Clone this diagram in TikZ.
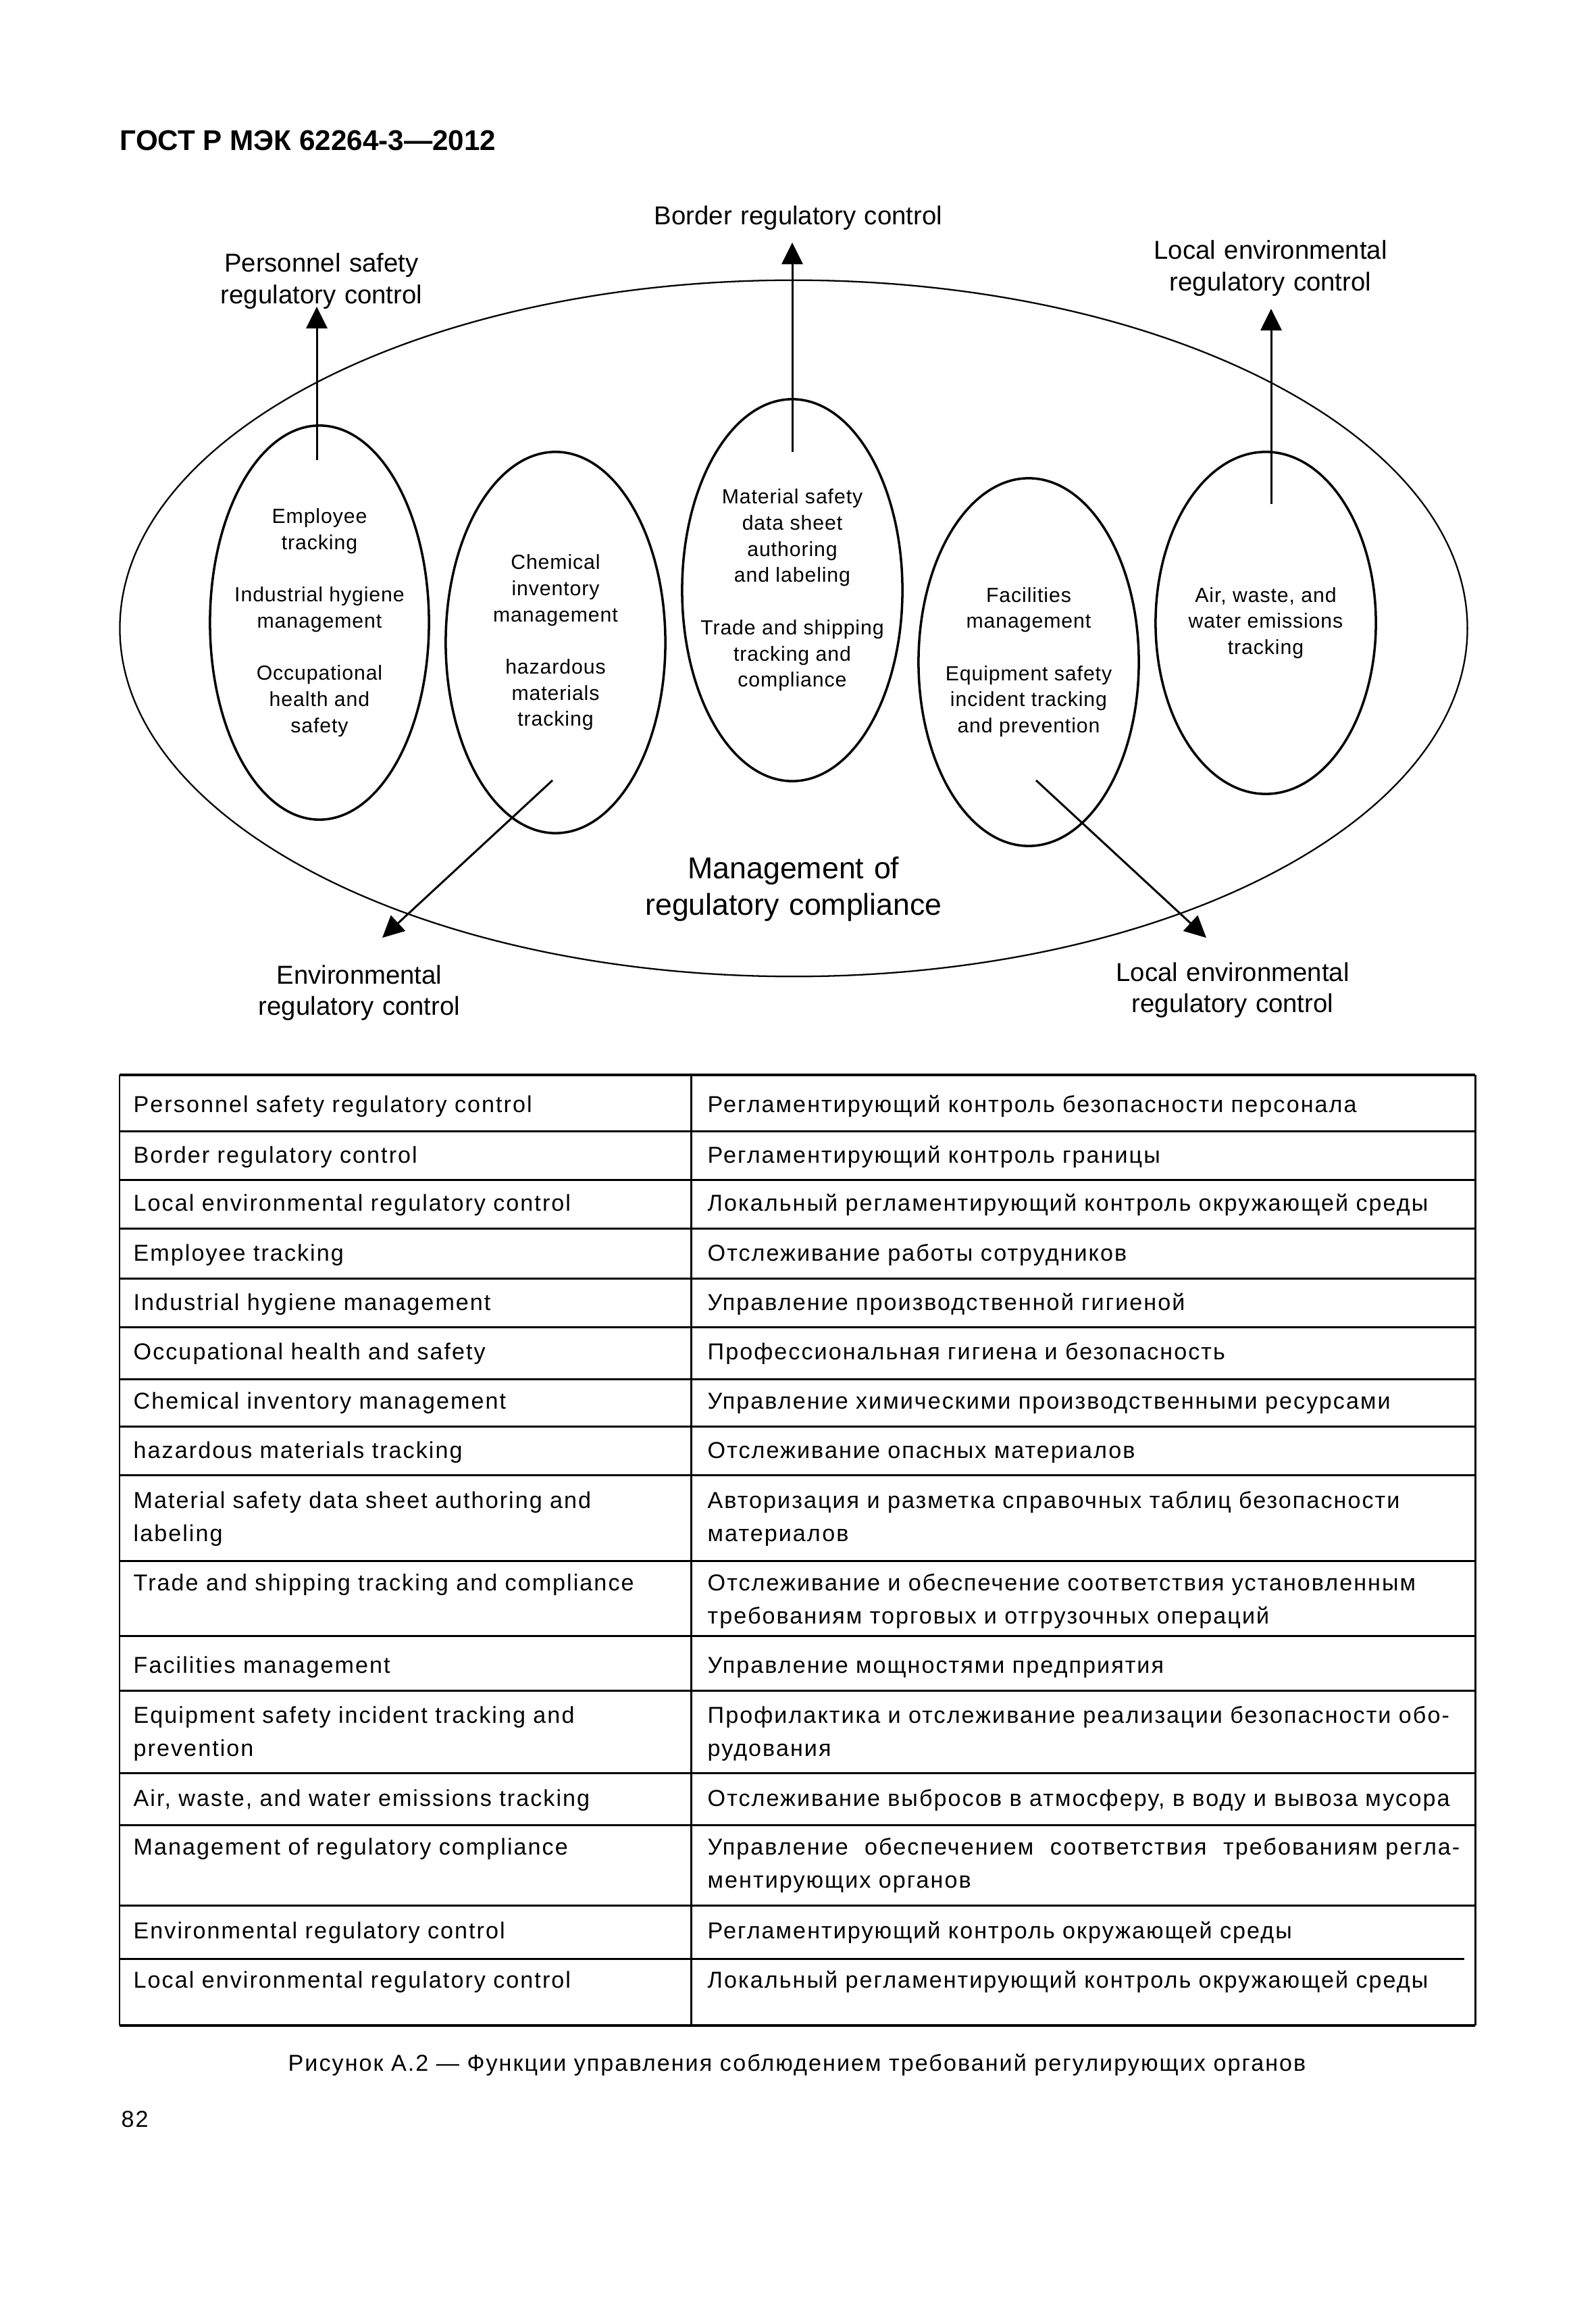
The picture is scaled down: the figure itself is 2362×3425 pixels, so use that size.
\documentclass[tikz,border=0pt]{standalone}
\usepackage{fontspec}
\setmainfont{Liberation Sans}
\newfontfamily\tabfont[LetterSpace=6]{Liberation Sans}
\newfontfamily\ellfont[LetterSpace=3]{Liberation Sans}
\usetikzlibrary{shapes.geometric}
\usetikzlibrary{arrows.meta,positioning}

\tikzset{
  smallell/.style={draw, ellipse, line width=1pt, inner sep=0pt},
  elltext/.style={align=center, inner sep=0pt, font=\ellfont\fontsize{8.6}{11}\selectfont},
  lbl/.style={text width=6cm, align=center, inner sep=0pt, anchor=base, font=\fontsize{10.9}{13.1}\selectfont},
  ctrlarrow/.style={-{Triangle[length=0.32cm,width=0.31cm]}, line width=0.85pt},
  lcell/.style={anchor=base west, inner sep=0pt, text width=8.1cm, align=left, font=\tabfont\fontsize{9.7}{14.1}\selectfont},
  rcell/.style={lcell, text width=11.3cm},
  tabline/.style={line width=0.85pt}
}

\begin{document}
\begin{tikzpicture}[x=0.01cm, y=-0.01cm]
 \useasboundingbox (0,0) rectangle (2362,3425);

 %header
 \node[anchor=base west, inner sep=0pt, font=\bfseries\fontsize{12}{14}\selectfont] (head) at (177,223) {ГОСТ Р МЭК 62264-3—2012};

 %outer ellipse
 \node[draw, ellipse, line width=0.65pt, minimum width=19.94cm, minimum height=10.30cm, inner sep=0pt] (outer) at (1175,930) {};
 \node[lbl, font=\fontsize{12.7}{15.4}\selectfont] (mrcLabel) at (1175,1300) {Management of\\regulatory compliance};

 %functions
 \foreach \name/\x/\y/\w/\h in {emp/473/921.5/3.24/5.83, chem/822.5/951/3.25/5.64, msds/1173/873.5/3.26/5.65, fac/1523/980/3.26/5.44, air/1874/922/3.26/5.06} {
   \node[smallell, minimum width=\w cm, minimum height=\h cm] (\name) at (\x,\y) {};
 }
 \node[elltext] (empText) at (emp) {Employee\\tracking\\[11pt]Industrial hygiene\\management\\[11pt]Occupational\\health and\\safety};
 \node[elltext] (chemText) at (chem) {Chemical\\inventory\\management\\[11pt]hazardous\\materials\\tracking};
 \node[elltext] (msdsText) at (msds) {Material safety\\data sheet\\authoring\\and labeling\\[11pt]Trade and shipping\\tracking and\\compliance};
 \node[elltext] (facText) at (fac) {Facilities\\management\\[11pt]Equipment safety\\incident tracking\\and prevention};
 \node[elltext] (airText) at (air) {Air, waste, and\\water emissions\\tracking};

 %controls
 \node[lbl] (psLabel) at (476,403) {Personnel safety\\regulatory control};
 \node[lbl] (brLabel) at (1182,333) {Border regulatory control};
 \node[lbl] (lecLabel) at (1881,384) {Local environmental\\regulatory control};
 \node[lbl] (ercLabel) at (532,1456) {Environmental\\regulatory control};
 \node[lbl] (lercLabel) at (1825,1452) {Local environmental\\regulatory control};

 \coordinate (psFrom) at (469,681);   \coordinate (psTo) at (469,454);
 \coordinate (brFrom) at (1173,669);  \coordinate (brTo) at (1173,359);
 \coordinate (lecFrom) at (1882,746); \coordinate (lecTo) at (1882,457);
 \coordinate (ercFrom) at (818,1155); \coordinate (ercTo) at (566,1388);
 \coordinate (lercFrom) at (1534,1155); \coordinate (lercTo) at (1786,1388);
 \foreach \a in {ps, br, lec, erc, lerc} {
   \draw[ctrlarrow] (\a From) -- (\a To);
 }

 %table
 \def\colA{177}
 \def\colB{1023}
 \def\colC{2184}
 \draw[line width=1.1pt] (\colA,1591) -- (\colC,1591);
 \draw[line width=1.1pt] (\colA,2998) -- (\colC,2998);
 \foreach \y in {1674,1746,1818,1892,1964,2041,2111,2183,2310,2421,2502,2624,2701,2820} {
   \draw[tabline] (\colA,\y) -- (\colC,\y);
 }
 \draw[tabline] (\colA,2899) -- (2168,2899);
 \foreach \x in {\colA,\colB,\colC} {
   \draw[tabline] (\x,1591) -- (\x,2998);
 }

 \foreach \y/\en/\ru [count=\k] in {
   1646/{Personnel safety regulatory control}/{Регламентирующий контроль безопасности персонала},
   1721/{Border regulatory control}/{Регламентирующий контроль границы},
   1792/{Local environmental regulatory control}/{Локальный регламентирующий контроль окружающей среды},
   1866/{Employee tracking}/{Отслеживание работы сотрудников},
   1939/{Industrial hygiene management}/{Управление производственной гигиеной},
   2012/{Occupational health and safety}/{Профессиональная гигиена и безопасность},
   2085/{Chemical inventory management}/{Управление химическими производственными ресурсами},
   2158/{hazardous materials tracking}/{Отслеживание опасных материалов},
   2232/{Material safety data sheet authoring and\\labeling}/{Авторизация и разметка справочных таблиц безопасности\\материалов},
   2354/{Trade and shipping tracking and compliance}/{Отслеживание и обеспечение соответствия установленным\\требованиям торговых и отгрузочных операций},
   2476/{Facilities management}/{Управление мощностями предприятия},
   2550/{Equipment safety incident tracking and\\prevention}/{Профилактика и отслеживание реализации безопасности обо-\\рудования},
   2673/{Air, waste, and water emissions tracking}/{Отслеживание выбросов в атмосферу, в воду и вывоза мусора},
   2745/{Management of regulatory compliance}/{\hbox to 11.13cm{Управление\hfill обеспечением\hfill соответствия\hfill требованиям регла-}\\ментирующих органов},
   2869/{Environmental regulatory control}/{Регламентирующий контроль окружающей среды},
   2942/{Local environmental regulatory control}/{Локальный регламентирующий контроль окружающей среды}} {
   \node[lcell] (en\k) at (197,\y) {\en};
   \node[rcell] (ru\k) at (1047,\y) {\ru};
 }

 %caption
 \node[anchor=base, inner sep=0pt, font=\tabfont\fontsize{9.7}{12}\selectfont] (caption) at (1180,3065) {Рисунок А.2 — Функции управления соблюдением требований регулирующих органов};
 \node[anchor=base west, inner sep=0pt, font=\tabfont\fontsize{9.7}{12}\selectfont] (pageNo) at (179,3148) {82};
\end{tikzpicture}
\end{document}
